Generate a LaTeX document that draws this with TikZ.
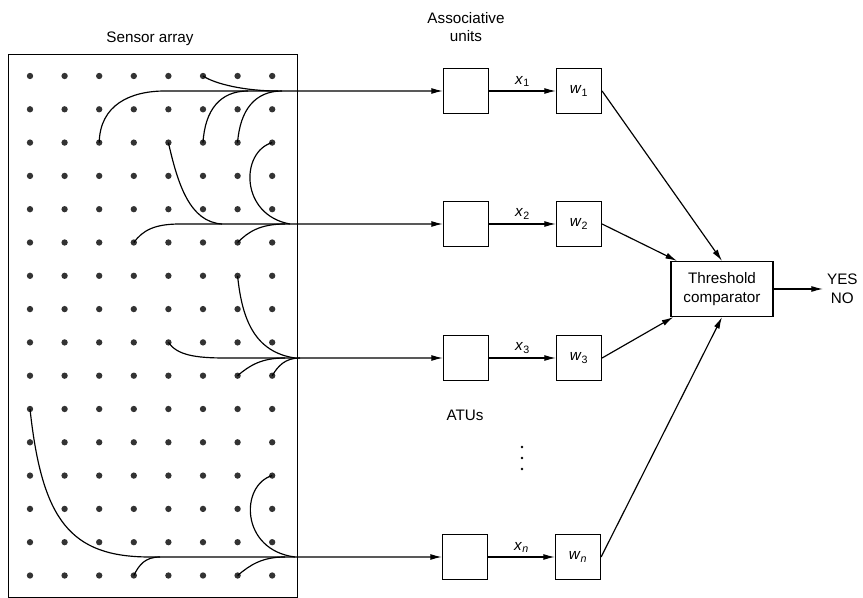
\documentclass[tikz,border=0pt]{standalone}
\usepackage{fontspec}
\setmainfont{Liberation Sans}
\usetikzlibrary{arrows.meta,positioning}

\begin{document}
\begin{tikzpicture}[x=0.03cm, y=-0.03cm,
    font=\fontsize{13}{16}\selectfont,
    dot/.style={circle, fill=black!80, inner sep=0pt, minimum size=1.9mm},
    unit/.style={draw, line width=1pt, minimum width=13.5mm, minimum height=13.5mm},
    arrow/.style={-{Latex[length=3.5mm, width=1.8mm]}, line width=1pt},
    feed/.style={line width=1pt}]

    \useasboundingbox (0,0) rectangle (863,598);

    % Sensor array: 8 columns x 16 rows of dots
    \node[draw, line width=0.8pt, minimum width=86.7mm, minimum height=162.9mm] (array) at (152.5,325.5) {};
    \node (arraylbl) at (150,39) {Sensor array};
    \foreach \c in {0,...,7}
        \foreach \r in {0,...,15}
            \node[dot] (d\c-\r) at (30+34.6*\c, 76+33.3*\r) {};

    % Associative units and weights
    \node[align=center] (assoc) at (466,27) {Associative\\units};
    \node[unit] (u1) at (466,91) {};
    \node[unit] (u2) at (466,224) {};
    \node[unit] (u3) at (466,358) {};
    \node[unit] (un) at (465,557) {};
    \node (atus) at (465,415) {ATUs};
    \foreach \y [count=\k] in {447,458,469}
        \node[circle, fill, inner sep=0pt, minimum size=0.8mm] (vd\k) at (522,\y) {};

    \node[unit] (w1) at (579,91) {\textit{w}\textsubscript{1}};
    \node[unit] (w2) at (579,224) {\textit{w}\textsubscript{2}};
    \node[unit] (w3) at (579,358) {\textit{w}\textsubscript{3}};
    \node[unit] (wn) at (578,557) {\textit{w}\textsubscript{\textit{n}}};

    \node[draw, line width=1pt, minimum width=30.6mm, minimum height=16.5mm, align=center] (cmp) at (722,289) {Threshold\\comparator};
    \coordinate (yn) at (823,289);
    \node[right=0pt of yn, align=center] (out) {YES\\NO};

    % Channel 1
    \coordinate (j1) at (165,91);
    \coordinate (m1a) at (278,91);
    \coordinate (m1b) at (248,91);
    \coordinate (m1c) at (282,91);
    \draw[arrow] (d2-2.center) .. controls (100,105) and (130,91) .. (j1) -- (u1);
    \draw[feed] (d5-0.center) .. controls (215,84) and (245,91) .. (m1a);
    \draw[feed] (d5-2.center) .. controls (205,110) and (220,91) .. (m1b);
    \draw[feed] (d6-2.center) .. controls (240,110) and (255,91) .. (m1c);

    % Channel 2
    \coordinate (j2) at (180,224);
    \coordinate (m2a) at (222,224);
    \coordinate (m2b) at (290,224);
    \coordinate (m2c) at (285,224);
    \draw[arrow] (d3-5.center) .. controls (143,230) and (155,224) .. (j2) -- (u2);
    \draw[feed] (d4-2.center) .. controls (178,185) and (190,222) .. (m2a);
    \draw[feed] (d7-2.center) .. controls (240,152) and (240,215) .. (m2b);
    \draw[feed] (d6-5.center) .. controls (248,232) and (260,224) .. (m2c);

    % Channel 3
    \coordinate (j3) at (225,358);
    \coordinate (m3a) at (295,358);
    \coordinate (m3b) at (285,358);
    \coordinate (m3c) at (300,358);
    \draw[arrow] (d4-8.center) .. controls (177,355) and (195,358) .. (j3) -- (u3);
    \draw[feed] (d6-6.center) .. controls (242,320) and (255,352) .. (m3a);
    \draw[feed] (d6-9.center) .. controls (250,365) and (262,358) .. (m3b);
    \draw[feed] (d7-9.center) .. controls (278,366) and (285,358) .. (m3c);

    % Channel n
    \coordinate (jn) at (150,557);
    \coordinate (mna) at (160,557);
    \coordinate (mnb) at (295,557);
    \coordinate (mnc) at (285,557);
    \draw[arrow] (d0-10.center) .. controls (42,520) and (70,557) .. (jn) -- (un);
    \draw[feed] (d3-15.center) .. controls (139,565) and (145,557) .. (mna);
    \draw[feed] (d7-12.center) .. controls (240,485) and (240,550) .. (mnb);
    \draw[feed] (d6-15.center) .. controls (250,565) and (262,557) .. (mnc);

    % Units to weights
    \draw[arrow] (u1) -- node[above] (x1) {\textit{x}\textsubscript{1}} (w1);
    \draw[arrow] (u2) -- node[above] (x2) {\textit{x}\textsubscript{2}} (w2);
    \draw[arrow] (u3) -- node[above] (x3) {\textit{x}\textsubscript{3}} (w3);
    \draw[arrow] (un) -- node[above] (xn) {\textit{x}\textsubscript{\textit{n}}} (wn);

    % Weights to comparator
    \draw[arrow] (w1.east) -- (cmp.north);
    \draw[arrow] (w2.east) -- (cmp.148);
    \draw[arrow] (w3.east) -- (cmp.210);
    \draw[arrow] (wn.east) -- (cmp.south);
    \draw[arrow] (cmp) -- (yn);
\end{tikzpicture}
\end{document}
